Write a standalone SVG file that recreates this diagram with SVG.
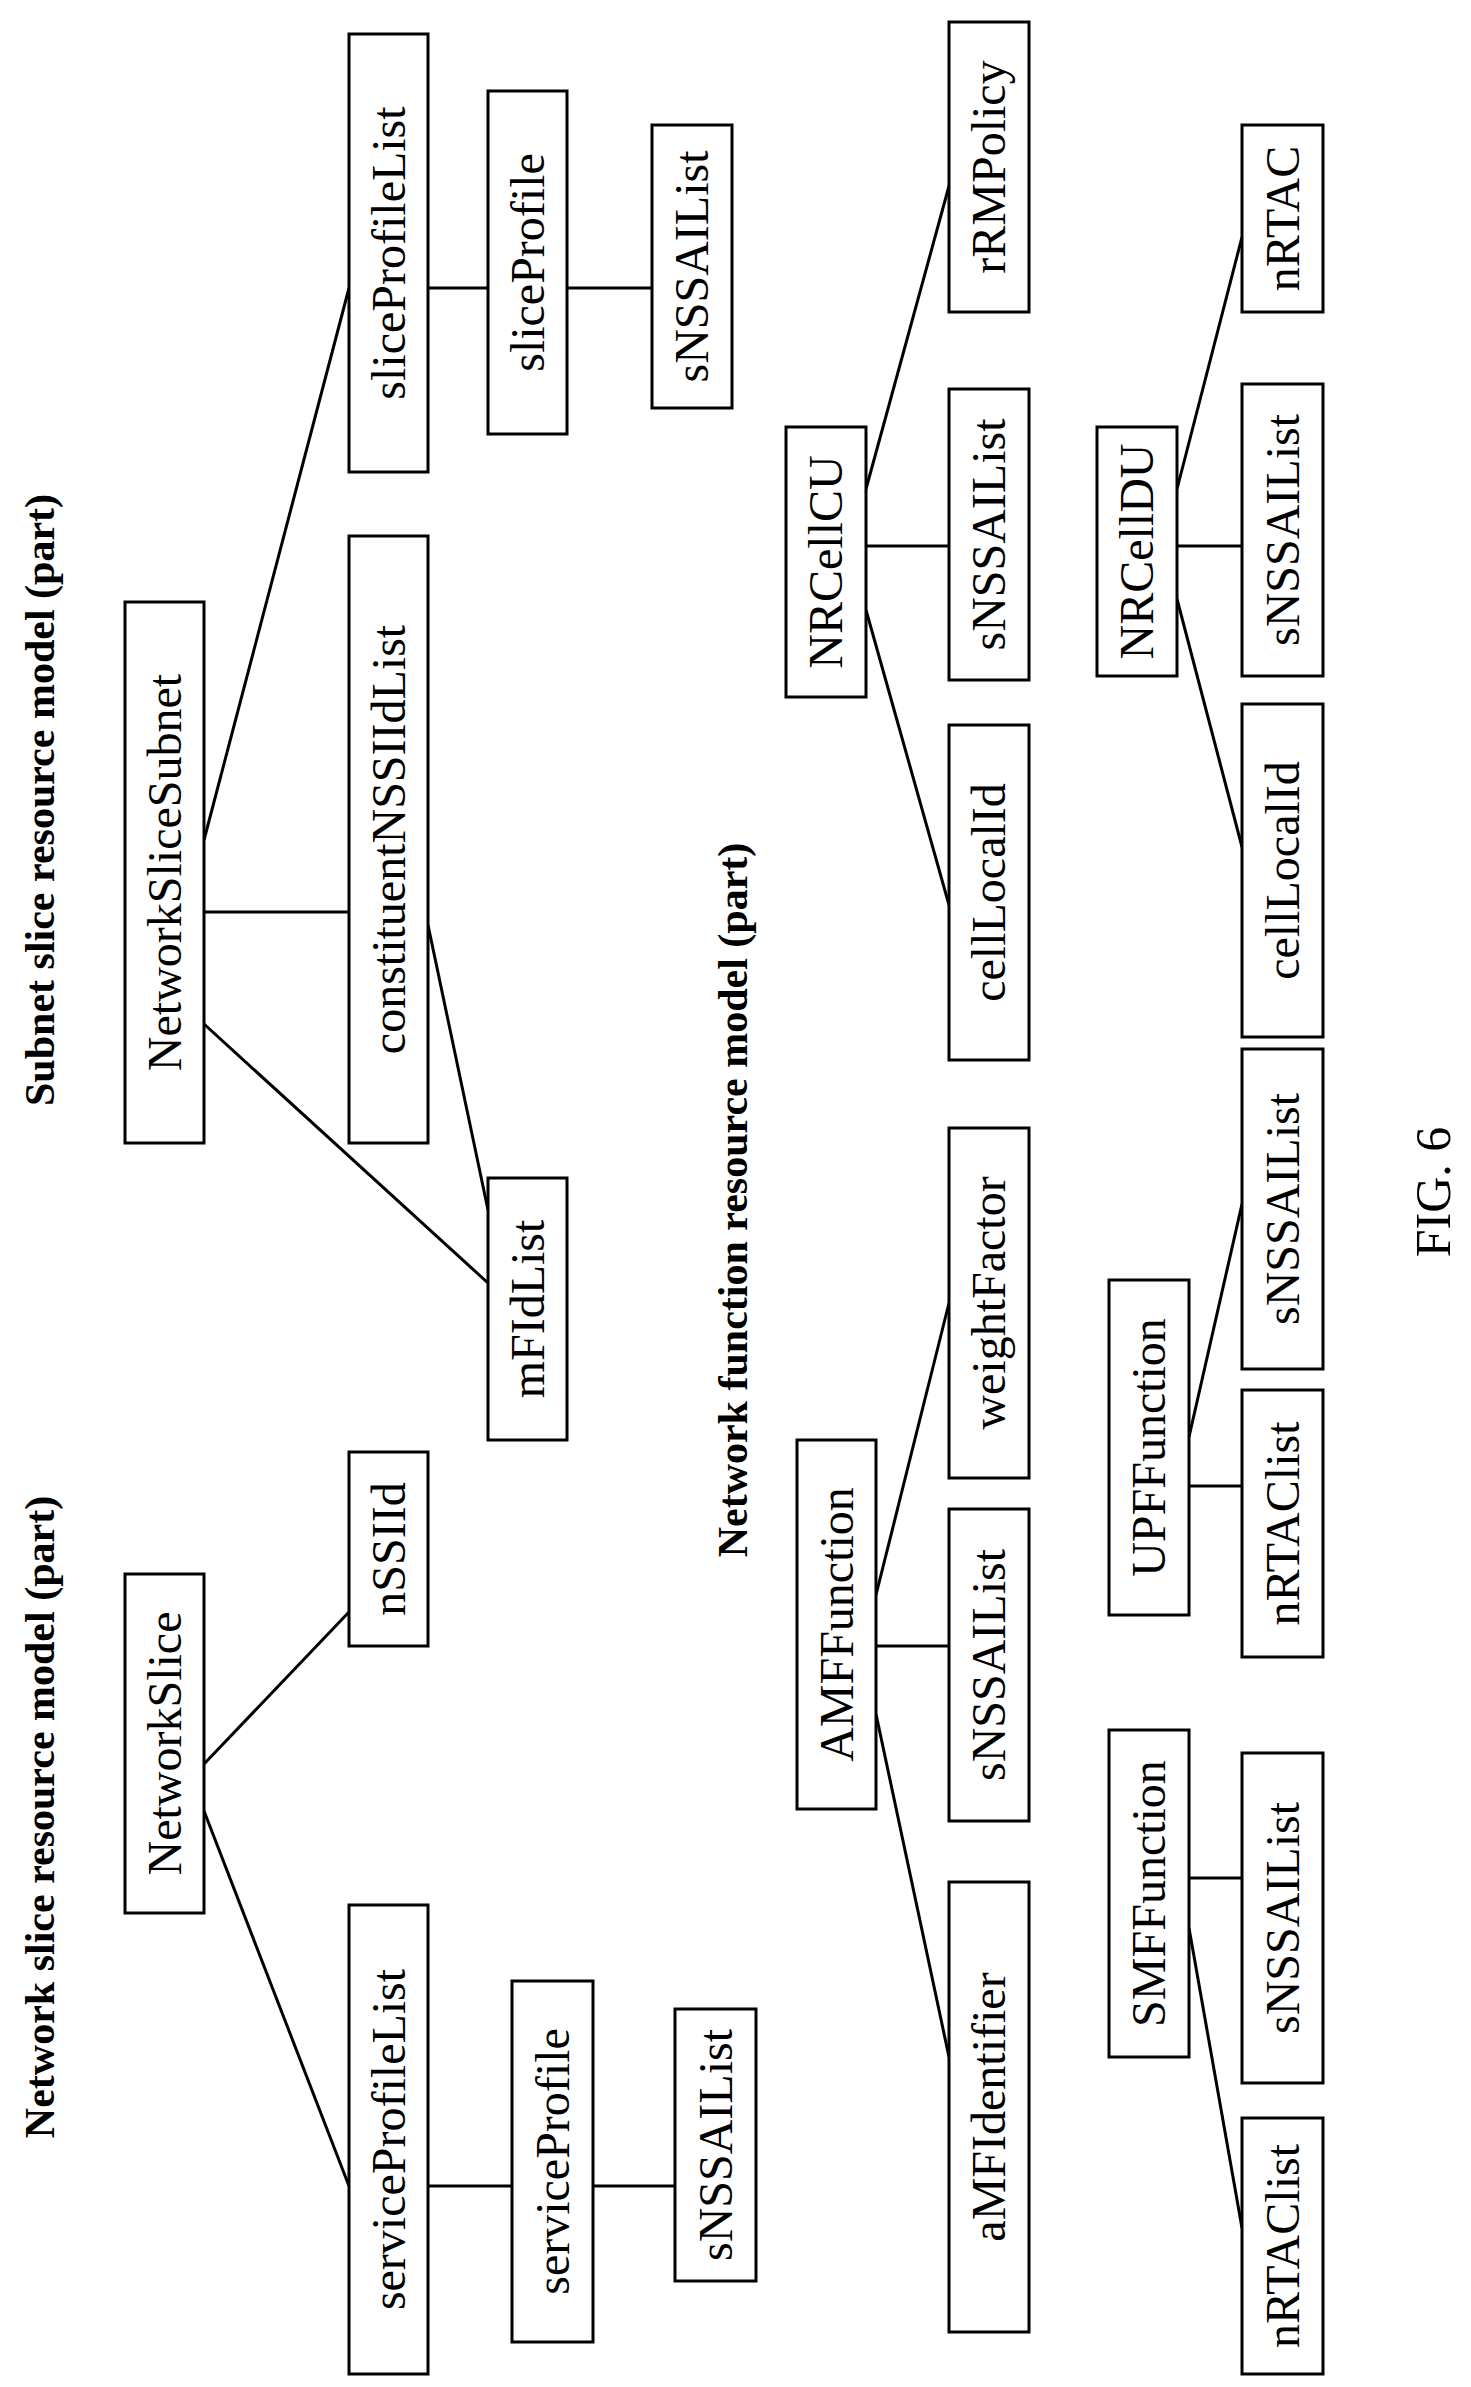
<svg xmlns="http://www.w3.org/2000/svg" width="1471" height="2387" viewBox="0 0 1471 2387">
<style>
rect{fill:#fff;stroke:#000;stroke-width:3}
line{stroke:#000;stroke-width:3}
text{font-family:"Liberation Serif",serif;font-size:48px;text-anchor:middle;fill:#000}
.t{font-weight:bold;font-size:42px}
.f{font-size:50px}
</style>
<rect x="0" y="0" width="1471" height="2387" style="stroke:none"/>
<g id="connectors">
<line x1="204" y1="1764" x2="349" y2="1612"/>
<line x1="204" y1="1811" x2="349" y2="2186"/>
<line x1="428" y1="2186" x2="512" y2="2186"/>
<line x1="593" y1="2186" x2="675" y2="2186"/>
<line x1="204" y1="840" x2="349" y2="288"/>
<line x1="204" y1="912" x2="349" y2="912"/>
<line x1="204" y1="1024" x2="488" y2="1283"/>
<line x1="428" y1="925" x2="488" y2="1210"/>
<line x1="428" y1="288" x2="488" y2="288"/>
<line x1="567" y1="288" x2="652" y2="288"/>
<line x1="876" y1="1595" x2="949" y2="1303"/>
<line x1="876" y1="1646" x2="949" y2="1646"/>
<line x1="876" y1="1714" x2="949" y2="2057"/>
<line x1="866" y1="489" x2="949" y2="186"/>
<line x1="866" y1="546" x2="949" y2="546"/>
<line x1="866" y1="610" x2="949" y2="905"/>
<line x1="1177" y1="489" x2="1242" y2="237"/>
<line x1="1177" y1="546" x2="1242" y2="546"/>
<line x1="1177" y1="599" x2="1242" y2="847"/>
<line x1="1189" y1="1878" x2="1242" y2="1878"/>
<line x1="1189" y1="1928" x2="1242" y2="2228"/>
<line x1="1189" y1="1486" x2="1242" y2="1486"/>
<line x1="1189" y1="1437" x2="1242" y2="1204"/>
</g>
<g id="titles">
<text class="t" transform="translate(40,1817) rotate(-90)" dy="14">Network slice resource model (part)</text>
<text class="t" transform="translate(40,800) rotate(-90)" dy="14">Subnet slice resource model (part)</text>
<text class="t" transform="translate(733,1200) rotate(-90)" dy="14">Network function resource model (part)</text>
<text class="f" transform="translate(1433,1192) rotate(-90)" dy="17">FIG. 6</text>
</g>
<g id="NetworkSlice"><rect x="125" y="1574" width="79" height="339"/><text transform="translate(164.5,1743.5) rotate(-90)" dy="16">NetworkSlice</text></g>
<g id="nSSIId"><rect x="349" y="1452" width="79" height="194"/><text transform="translate(388.5,1549) rotate(-90)" dy="16">nSSIId</text></g>
<g id="serviceProfileList"><rect x="349" y="1905" width="79" height="469"/><text transform="translate(388.5,2139.5) rotate(-90)" dy="16">serviceProfileList</text></g>
<g id="serviceProfile"><rect x="512" y="1981" width="81" height="361"/><text transform="translate(552.5,2161.5) rotate(-90)" dy="16">serviceProfile</text></g>
<g id="sNSSAIList1"><rect x="675" y="2009" width="81" height="272"/><text transform="translate(715.5,2145) rotate(-90)" dy="16">sNSSAIList</text></g>
<g id="NetworkSliceSubnet"><rect x="125" y="602" width="79" height="541"/><text transform="translate(164.5,872.5) rotate(-90)" dy="16">NetworkSliceSubnet</text></g>
<g id="constituentNSSIIdList"><rect x="349" y="536" width="79" height="607"/><text transform="translate(388.5,839.5) rotate(-90)" dy="16">constituentNSSIIdList</text></g>
<g id="sliceProfileList"><rect x="349" y="34" width="79" height="438"/><text transform="translate(388.5,253) rotate(-90)" dy="16">sliceProfileList</text></g>
<g id="sliceProfile"><rect x="488" y="91" width="79" height="343"/><text transform="translate(527.5,262.5) rotate(-90)" dy="16">sliceProfile</text></g>
<g id="sNSSAIList2"><rect x="652" y="125" width="80" height="283"/><text transform="translate(692,266.5) rotate(-90)" dy="16">sNSSAIList</text></g>
<g id="mFIdList"><rect x="488" y="1178" width="79" height="262"/><text transform="translate(527.5,1309) rotate(-90)" dy="16">mFIdList</text></g>
<g id="AMFFunction"><rect x="797" y="1440" width="79" height="369"/><text transform="translate(836.5,1624.5) rotate(-90)" dy="16">AMFFunction</text></g>
<g id="weightFactor"><rect x="949" y="1128" width="80" height="350"/><text transform="translate(989,1303) rotate(-90)" dy="16">weightFactor</text></g>
<g id="sNSSAIList3"><rect x="949" y="1509" width="80" height="312"/><text transform="translate(989,1665) rotate(-90)" dy="16">sNSSAIList</text></g>
<g id="aMFIdentifier"><rect x="949" y="1882" width="80" height="450"/><text transform="translate(989,2107) rotate(-90)" dy="16">aMFIdentifier</text></g>
<g id="NRCellCU"><rect x="786" y="427" width="80" height="270"/><text transform="translate(826,562) rotate(-90)" dy="16">NRCellCU</text></g>
<g id="rRMPolicy"><rect x="949" y="22" width="80" height="290"/><text transform="translate(989,167) rotate(-90)" dy="16">rRMPolicy</text></g>
<g id="sNSSAIList4"><rect x="949" y="389" width="80" height="291"/><text transform="translate(989,534.5) rotate(-90)" dy="16">sNSSAIList</text></g>
<g id="cellLocalId1"><rect x="949" y="725" width="80" height="335"/><text transform="translate(989,892.5) rotate(-90)" dy="16">cellLocalId</text></g>
<g id="NRCellDU"><rect x="1097" y="427" width="80" height="249"/><text transform="translate(1137,551.5) rotate(-90)" dy="16">NRCellDU</text></g>
<g id="nRTAC"><rect x="1242" y="125" width="81" height="187"/><text transform="translate(1282.5,218.5) rotate(-90)" dy="16">nRTAC</text></g>
<g id="sNSSAIList5"><rect x="1242" y="384" width="81" height="292"/><text transform="translate(1282.5,530) rotate(-90)" dy="16">sNSSAIList</text></g>
<g id="cellLocalId2"><rect x="1242" y="704" width="81" height="333"/><text transform="translate(1282.5,870.5) rotate(-90)" dy="16">cellLocalId</text></g>
<g id="UPFFunction"><rect x="1109" y="1280" width="80" height="335"/><text transform="translate(1149,1447.5) rotate(-90)" dy="16">UPFFunction</text></g>
<g id="sNSSAIList6"><rect x="1242" y="1049" width="81" height="320"/><text transform="translate(1282.5,1209) rotate(-90)" dy="16">sNSSAIList</text></g>
<g id="nRTAClist1"><rect x="1242" y="1390" width="81" height="267"/><text transform="translate(1282.5,1523.5) rotate(-90)" dy="16">nRTAClist</text></g>
<g id="SMFFunction"><rect x="1109" y="1730" width="80" height="327"/><text transform="translate(1149,1893.5) rotate(-90)" dy="16">SMFFunction</text></g>
<g id="sNSSAIList7"><rect x="1242" y="1753" width="81" height="330"/><text transform="translate(1282.5,1918) rotate(-90)" dy="16">sNSSAIList</text></g>
<g id="nRTAClist2"><rect x="1242" y="2118" width="81" height="256"/><text transform="translate(1282.5,2246) rotate(-90)" dy="16">nRTAClist</text></g>
</svg>
